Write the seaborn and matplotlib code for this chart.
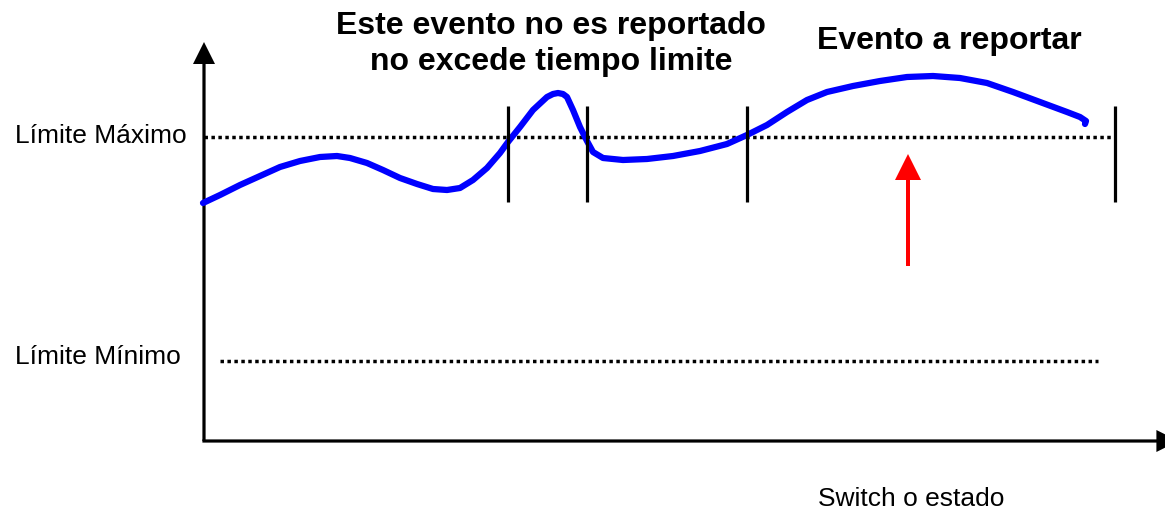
import matplotlib
matplotlib.use("Agg")
import matplotlib.pyplot as plt
import seaborn as sns
import pandas as pd

sns.set_style("white")
plt.rcParams['font.family'] = ['Liberation Sans', 'DejaVu Sans']

# ---- data (schematic units: image pixel space, y grows downward) ----
curve_x = [203, 220, 240, 260, 280, 300, 320, 337, 350, 367, 383, 400, 417, 433,
           447, 460, 473, 487, 500, 508, 520, 533, 547, 553, 558, 563, 567, 573,
           580, 587, 593, 603, 623, 647, 673, 700, 727, 747, 767, 787, 807, 827,
           853, 880, 907, 933, 960, 987, 1013, 1040, 1067, 1080, 1086, 1085]
curve_y = [203, 195, 185, 176, 167, 161, 157, 156, 158, 163, 170, 178, 184, 189,
           190, 188, 180, 168, 153, 142, 127, 110, 97, 94, 93, 94, 97, 110,
           127, 141, 152, 158, 160, 159, 156, 151, 144, 135, 125, 112, 100, 92,
           86, 81, 77, 76, 78, 83, 92, 102, 112, 117, 121, 124]
limit_max_y = 137
limit_min_y = 361
marker_x = [508, 587, 747, 1115]
labels = ["Límite Máximo", "Límite Mínimo"]
title_note = "Este evento no es reportado\nno excede tiempo limite"
title_event = "Evento a reportar"
x_label = "Switch o estado"

W, H = 1165, 511
fig = plt.figure(figsize=(W / 100, H / 100), dpi=100)
ax = fig.add_axes([0, 0, 1, 1])

# curve
df = pd.DataFrame({'x': curve_x, 'y': curve_y})
sns.lineplot(data=df, x='x', y='y', sort=False, color='#0000FF', lw=4.5, ax=ax,
             solid_capstyle='round', solid_joinstyle='round', zorder=3)
ax.set_xlim(0, W)
ax.set_ylim(H, 0)
ax.axis('off')

# axes arrows
origin_x, origin_y = 204, 441
ax.arrow(origin_x, origin_y, 0, 42 - origin_y, width=3.2, head_width=22, head_length=22,
         length_includes_head=True, color='black', lw=0)
ax.arrow(origin_x - 1.6, origin_y, 1180 - origin_x, 0, width=3.2, head_width=22, head_length=22,
         length_includes_head=True, color='black', lw=0)

# limit lines
ax.plot([204, 1113], [limit_max_y, limit_max_y], color='black', lw=2.5,
        linestyle=(0, (1, 1)), dash_capstyle='butt', zorder=2)
ax.plot([220, 1098], [limit_min_y, limit_min_y], color='black', lw=2.5,
        linestyle=(0, (1, 1)), dash_capstyle='butt', zorder=2)

# vertical markers
ax.vlines(marker_x, 106, 202, color='black', lw=2.3, zorder=4)

# red arrow
ax.arrow(908, 266, 0, 154 - 266, width=4, head_width=26, head_length=26,
         length_includes_head=True, color='red', lw=0)

# texts
ax.text(15, 136, labels[0], fontsize=19, color='black', ha='left', va='center')
ax.text(15, 357, labels[1], fontsize=19, color='black', ha='left', va='center')
ax.text(551, 44, title_note, fontsize=23, fontweight='bold', color='black',
        ha='center', va='center', linespacing=1.25)
ax.text(949, 41, title_event, fontsize=23, fontweight='bold', color='black',
        ha='center', va='center')
ax.text(818, 499, x_label, fontsize=19, color='black', ha='left', va='center')

fig.savefig('out.png', dpi=100)
